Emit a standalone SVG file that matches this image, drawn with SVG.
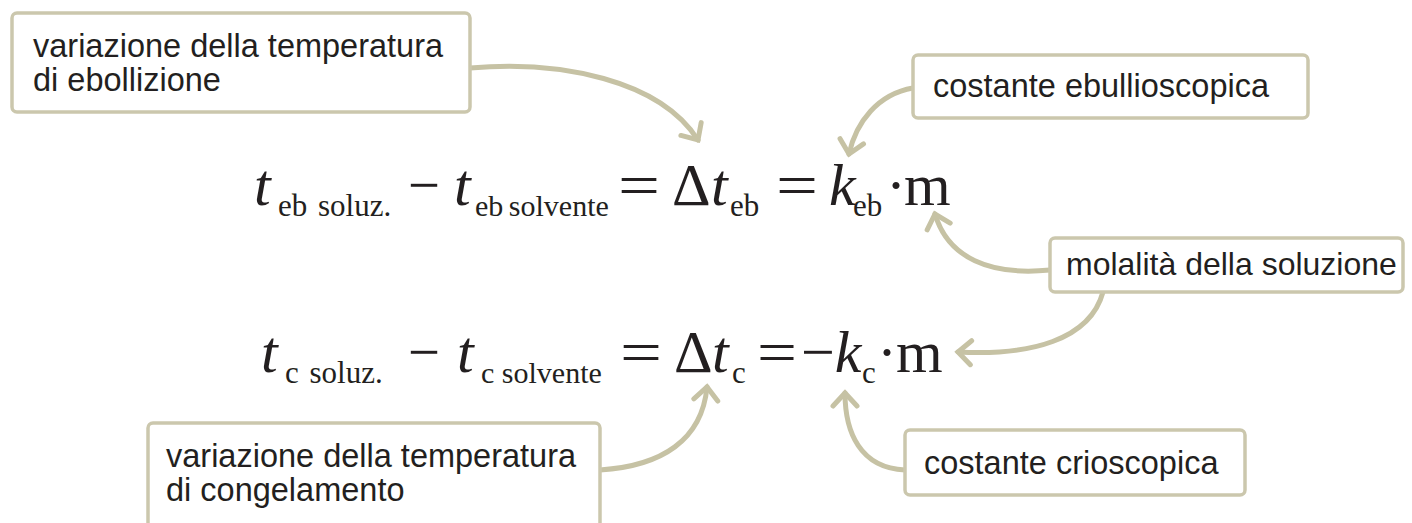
<svg xmlns="http://www.w3.org/2000/svg" width="1412" height="523" viewBox="0 0 1412 523">
<defs>
<style>
.box{fill:#ffffff;stroke:#cbc7ad;stroke-width:3.5}
.lbl{font-family:"Liberation Sans",Arial,sans-serif;font-size:32.5px;fill:#231f20}
.conn{fill:none;stroke:#c6c2a4;stroke-width:5;stroke-linecap:round}
.eq{font-family:"Liberation Serif","Times New Roman",serif;font-size:60px;fill:#231f20}
.it{font-style:italic}
.sub{font-size:31px}
.sub2{font-size:30px}
</style>
<marker id="ah" viewBox="-16 -16 32 32" markerWidth="32" markerHeight="32" refX="0" refY="0" orient="auto" markerUnits="userSpaceOnUse">
<path d="M-13,-12 L0,0 L-13,12" fill="none" stroke="#c6c2a4" stroke-width="5" stroke-linecap="round" stroke-linejoin="miter"/>
</marker>
</defs>
<rect width="1412" height="523" fill="#ffffff"/>
<g id="connectors">
<path class="conn" marker-end="url(#ah)" d="M470,68 C560,60 660,80 698,140"/>
<path class="conn" marker-end="url(#ah)" d="M913,88 C878,94 856,122 849,154"/>
<path class="conn" marker-end="url(#ah)" d="M1050,270 C990,276 948,258 935,214"/>
<path class="conn" marker-end="url(#ah)" d="M1103,292 C1090,340 1030,356 958,352"/>
<path class="conn" marker-end="url(#ah)" d="M600,470 C662,466 702,440 707,387"/>
<path class="conn" marker-end="url(#ah)" d="M905,470 C860,468 845,432 845,393"/>
</g>
<g id="box-ebollizione">
<rect class="box" x="12" y="13" width="458" height="99" rx="5"/>
<text class="lbl" x="33" y="57">variazione della temperatura</text>
<text class="lbl" x="33" y="91">di ebollizione</text>
</g>
<g id="box-ebullioscopica">
<rect class="box" x="913" y="55" width="395" height="63" rx="5"/>
<text class="lbl" x="933" y="97">costante ebullioscopica</text>
</g>
<g id="box-molalita">
<rect class="box" x="1050" y="238" width="353" height="54" rx="5"/>
<text class="lbl" x="1066" y="275" style="font-size:32px">molalità della soluzione</text>
</g>
<g id="box-congelamento">
<rect class="box" x="148" y="423" width="452" height="105" rx="5"/>
<text class="lbl" x="166" y="467">variazione della temperatura</text>
<text class="lbl" x="166" y="501">di congelamento</text>
</g>
<g id="box-crioscopica">
<rect class="box" x="905" y="430" width="340" height="65" rx="5"/>
<text class="lbl" x="924" y="474">costante crioscopica</text>
</g>
<g id="eq-ebollizione">
<text class="eq it" x="254" y="205">t</text>
<text class="eq sub" x="278" y="216" style="word-spacing:3px">eb soluz.</text>
<text class="eq" x="408" y="205" textLength="32" lengthAdjust="spacingAndGlyphs">−</text>
<text class="eq it" x="454" y="205">t</text>
<text class="eq sub2" x="475" y="216" style="word-spacing:-2px">eb solvente</text>
<text class="eq" x="618" y="205" textLength="42" lengthAdjust="spacingAndGlyphs">=</text>
<text class="eq" x="672" y="205">Δ</text>
<text class="eq it" x="711" y="205">t</text>
<text class="eq sub" x="730" y="216">eb</text>
<text class="eq" x="776" y="205" textLength="42" lengthAdjust="spacingAndGlyphs">=</text>
<text class="eq it" x="829" y="205">k</text>
<text class="eq sub" x="853" y="216">eb</text>
<text class="eq" x="886" y="205">·</text>
<text class="eq" x="904" y="205">m</text>
</g>
<g id="eq-congelamento">
<text class="eq it" x="261" y="372">t</text>
<text class="eq sub" x="285" y="383" style="word-spacing:3px">c soluz.</text>
<text class="eq" x="408" y="372" textLength="32" lengthAdjust="spacingAndGlyphs">−</text>
<text class="eq it" x="457" y="372">t</text>
<text class="eq sub2" x="481" y="383">c solvente</text>
<text class="eq" x="620" y="372" textLength="42" lengthAdjust="spacingAndGlyphs">=</text>
<text class="eq" x="674" y="372">Δ</text>
<text class="eq it" x="712" y="372">t</text>
<text class="eq sub" x="732" y="383">c</text>
<text class="eq" x="757" y="372" textLength="40" lengthAdjust="spacingAndGlyphs">=</text>
<text class="eq" x="801" y="372">−<tspan class="it">k</tspan></text>
<text class="eq sub" x="862" y="383">c</text>
<text class="eq" x="877" y="372">·</text>
<text class="eq" x="896" y="372">m</text>
</g>
</svg>
